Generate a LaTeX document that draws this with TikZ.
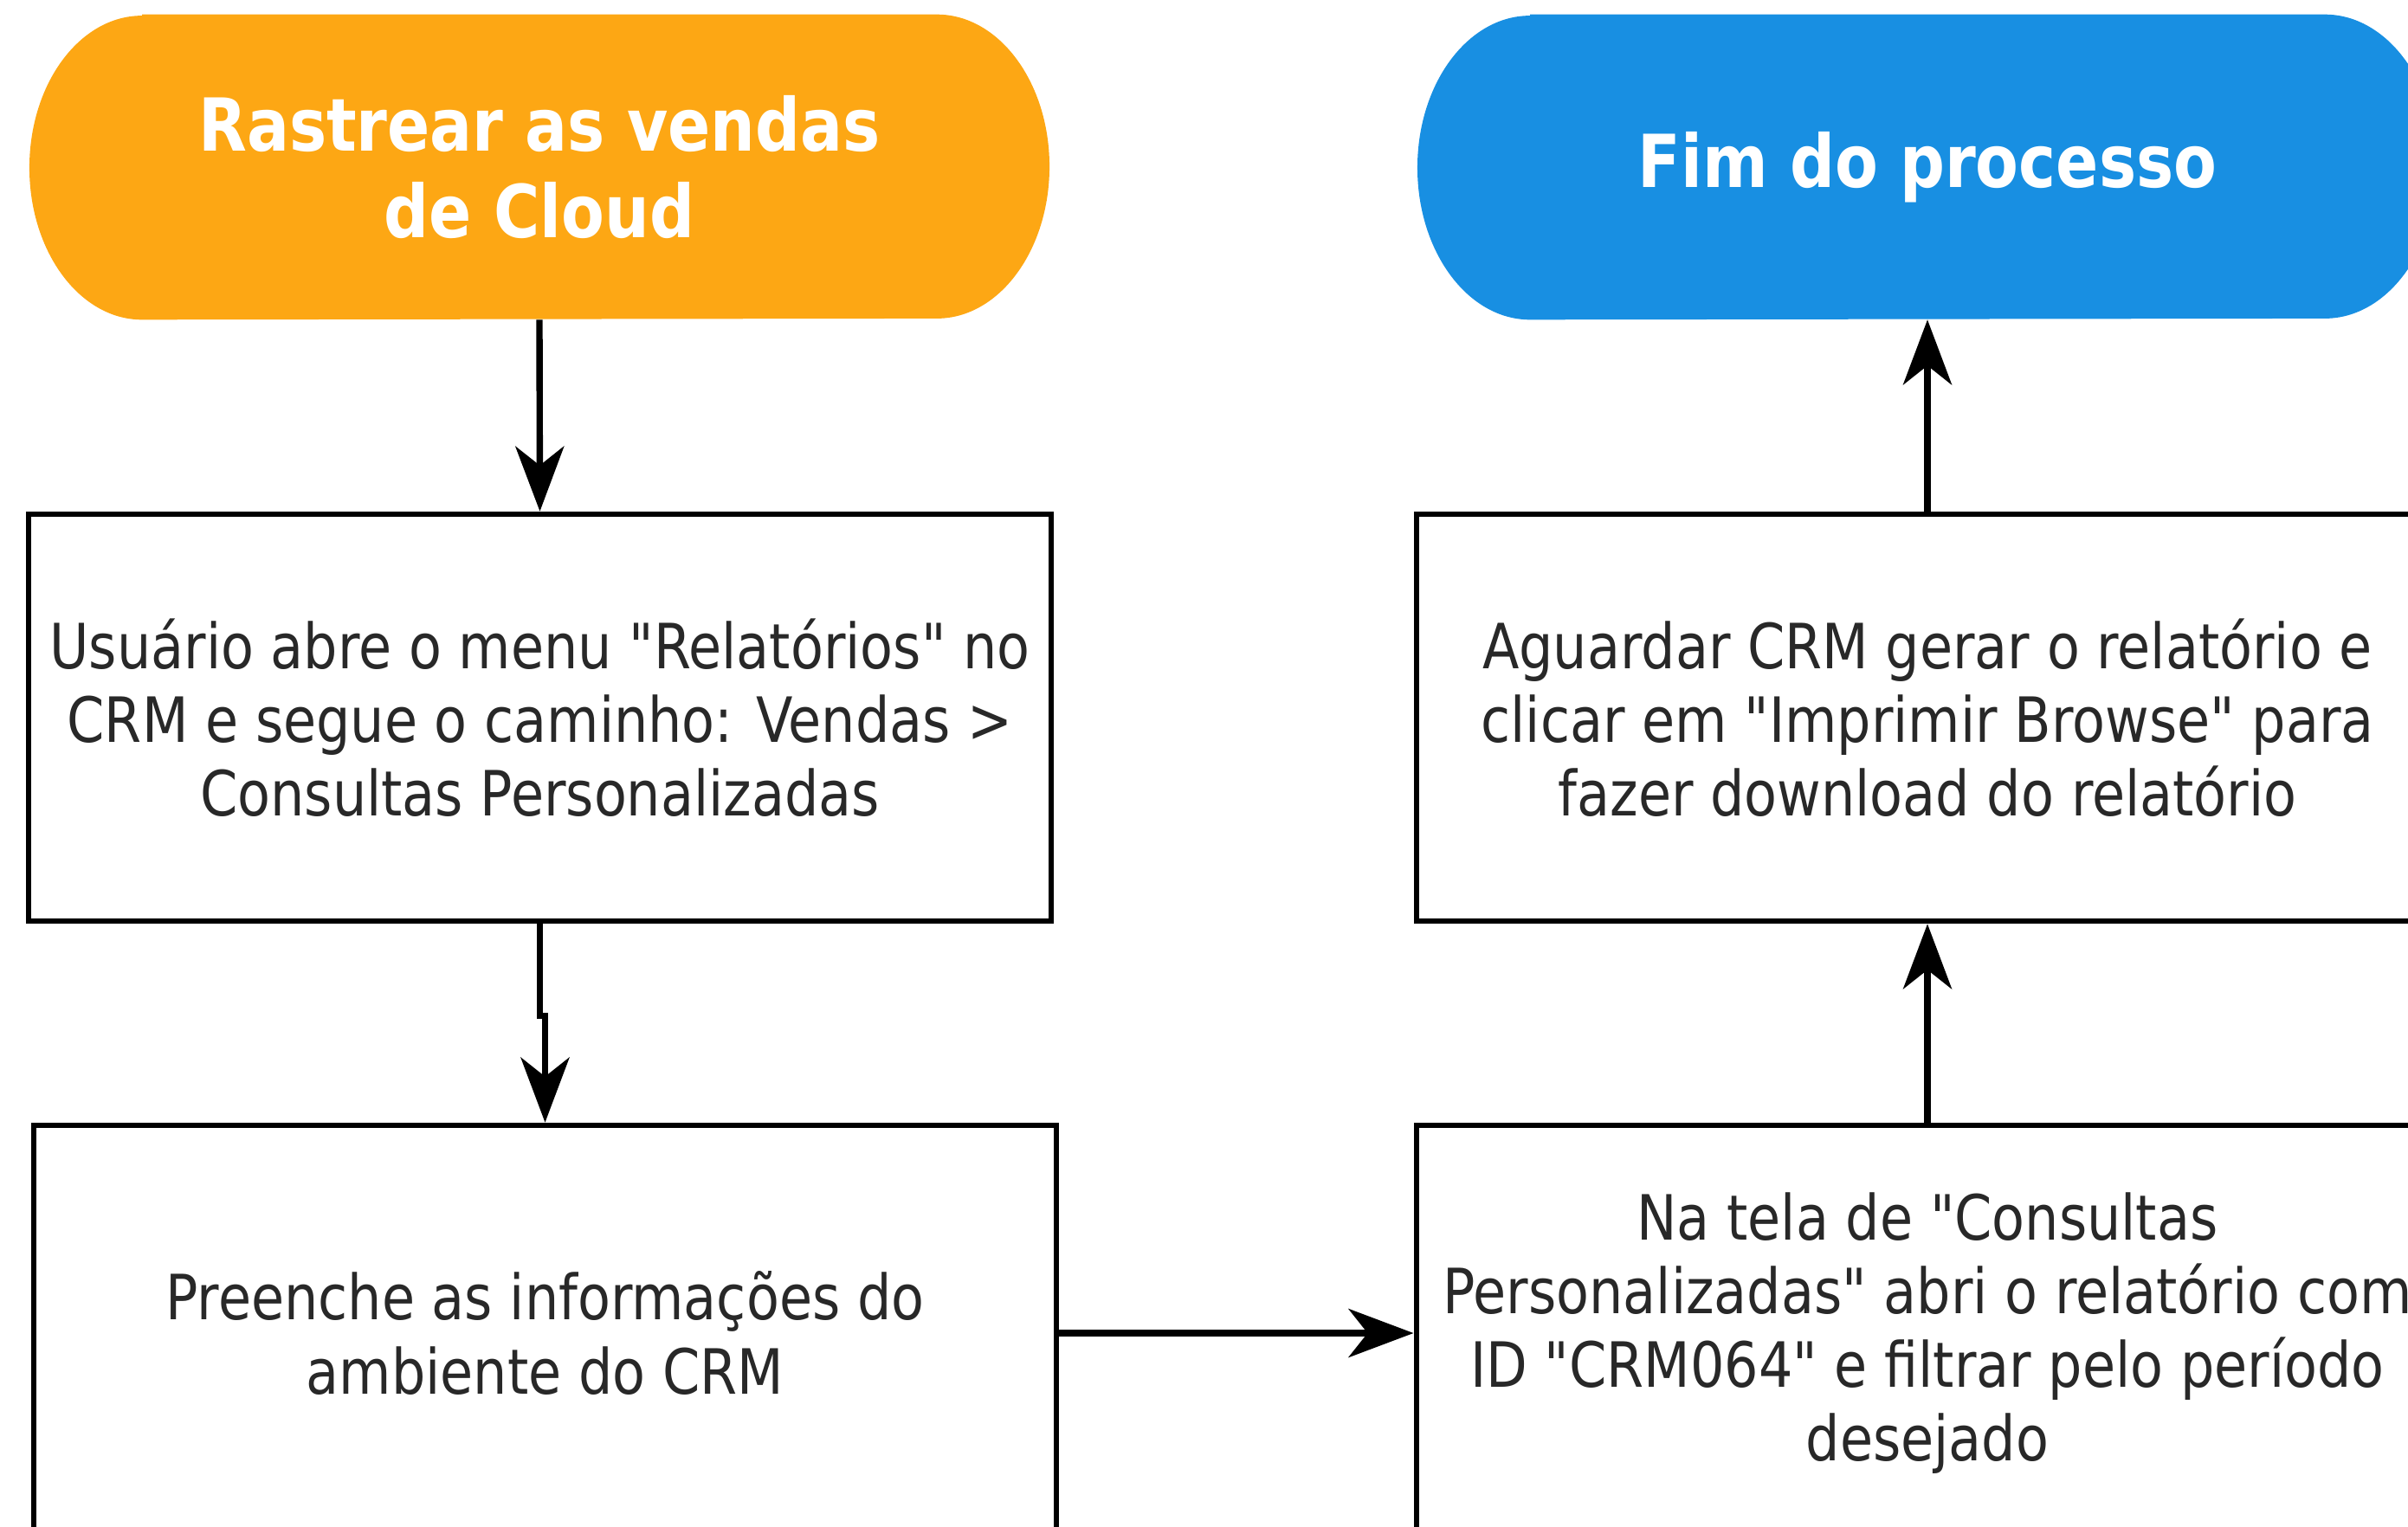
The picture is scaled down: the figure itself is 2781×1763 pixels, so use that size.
\documentclass[tikz,border=0pt]{standalone}
\usepackage{fontspec}
\setmainfont{DejaVu Sans}[FakeStretch=0.86, Ligatures=TeXOff]
\usetikzlibrary{arrows.meta,calc,backgrounds}
\definecolor{pillorange}{RGB}{253,167,20}
\definecolor{pillblue}{RGB}{24,143,226}
\definecolor{txt}{RGB}{40,40,40}
\begin{document}
\begin{tikzpicture}[x=0.01cm,y=-0.01cm,
  box/.style={draw=black, line width=1.8pt, minimum width=11.8cm, minimum height=4.7cm,
    align=center, text=txt, font=\fontsize{20.5}{24.2}\selectfont, inner sep=0pt},
  bigbox/.style={box, minimum height=4.8cm},
  pilltext/.style={minimum width=11.76cm, minimum height=3.51cm, align=center, text=white,
    font=\fontsize{24}{28.7}\selectfont\bfseries, inner sep=0pt},
  arr/.style={line width=2.1pt, -{Stealth[length=0.75cm,width=0.56cm,inset=0.22cm]}}]
\useasboundingbox (0,0) rectangle (2781,1763);
\clip (0,0) rectangle (2781,1763);

\node[pilltext] (p1) at (623,193) {Rastrear as vendas\\de Cloud};
\node[pilltext] (p2) at (2226,193) {Fim do processo};

\node[box] (b1) at (623.5,829) {Usuário abre o menu "Relatórios" no\\CRM e segue o caminho: Vendas >\\Consultas Personalizadas};
\node[bigbox] (b2) at (629.5,1540) {Preenche as informações do\\ambiente do CRM};
\node[box] (b3) at (2226,829) {Aguardar CRM gerar o relatório e\\clicar em "Imprimir Browse" para\\fazer download do relatório};
\node[bigbox] (b4) at (2226,1540) {Na tela de "Consultas\\Personalizadas" abri o relatório com\\ID "CRM064" e filtrar pelo período\\desejado};

\begin{scope}[on background layer]
  \fill[white] (0,0) rectangle (2781,1763);
  \fill[pillorange] ($(p1.north west)+(1.3cm,0)$) -- ($(p1.north east)+(-1.3cm,0)$)
    arc[start angle=90, end angle=-90, x radius=1.3cm, y radius=1.755cm]
    -- ($(p1.south west)+(1.3cm,0)$)
    arc[start angle=270, end angle=90, x radius=1.3cm, y radius=1.755cm] -- cycle;
  \fill[pillblue] ($(p2.north west)+(1.3cm,0)$) -- ($(p2.north east)+(-1.3cm,0)$)
    arc[start angle=90, end angle=-90, x radius=1.3cm, y radius=1.755cm]
    -- ($(p2.south west)+(1.3cm,0)$)
    arc[start angle=270, end angle=90, x radius=1.3cm, y radius=1.755cm] -- cycle;
\end{scope}

\draw[arr] (p1.south) -- (b1.north);
\draw[arr] (b1.south) -- ++(0,106) -| (b2.north);
\draw[arr] (b2.east) -- (b4.west);
\draw[arr] (b4.north) -- (b3.south);
\draw[arr] (b3.north) -- (p2.south);
\end{tikzpicture}
\end{document}
